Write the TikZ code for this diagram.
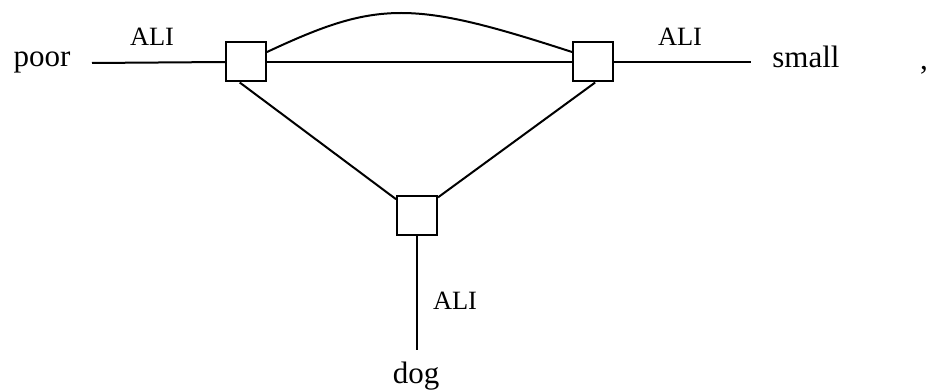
\documentclass[tikz,border=0pt]{standalone}
\usepackage{fontspec}
\setmainfont{Liberation Serif}
\usetikzlibrary{calc}
\tikzset{
  vbox/.style  = {rectangle, draw, line width=1pt, minimum width=20pt,
                  minimum height=19.5pt, inner sep=0pt},
  edge/.style  = {line width=1pt},
}

\begin{document}
\begin{tikzpicture}[
    x=0.5pt, y=-0.5pt,
    word/.style={font=\fontsize{15.5}{18}\selectfont, inner sep=0pt, anchor=base},
    lbl/.style={font=\fontsize{13.2}{16}\selectfont, inner sep=0pt, anchor=base}
]
\useasboundingbox (0,0) rectangle (930,390);

% ---------------- vertices ----------------
\node[vbox] (lbox) at (246,62) {};
\node[vbox] (rbox) at (593,62) {};
\node[vbox] (cbox) at (417,215) {};

% ---------------- words ----------------
\node[word] (poor) at (42,67) {poor};
\node[word] (small) at (806,68) {small};
\node[word] (dog) at (416,383) {dog};
\node[word] (comma) at (924,69) {,};

\coordinate (pend) at (92,63);
\coordinate (send) at (751,62);
\coordinate (dend) at (417,350);

% ---------------- legs ----------------
\draw[edge] (pend) -- (lbox.west);
\draw[edge] (rbox.east) -- (send);
\draw[edge] (cbox.south) -- (dend);

\node[lbl] (ali1) at (152,45.5) {ALI};
\node[lbl] (ali2) at (680,45.5) {ALI};
\node[lbl] (ali3) at (455,309) {ALI};

% ---------------- inner edges ----------------
\draw[edge] (lbox.east) -- (rbox.west);
\draw[edge] ($(lbox.east)+(0,-10)$) .. controls (378,0) and (412,0) .. ($(rbox.west)+(0,-10)$);
\draw[edge] (lbox.253) -- (cbox.143);
\draw[edge] (rbox.276) -- (cbox.40);

\end{tikzpicture}
\end{document}
